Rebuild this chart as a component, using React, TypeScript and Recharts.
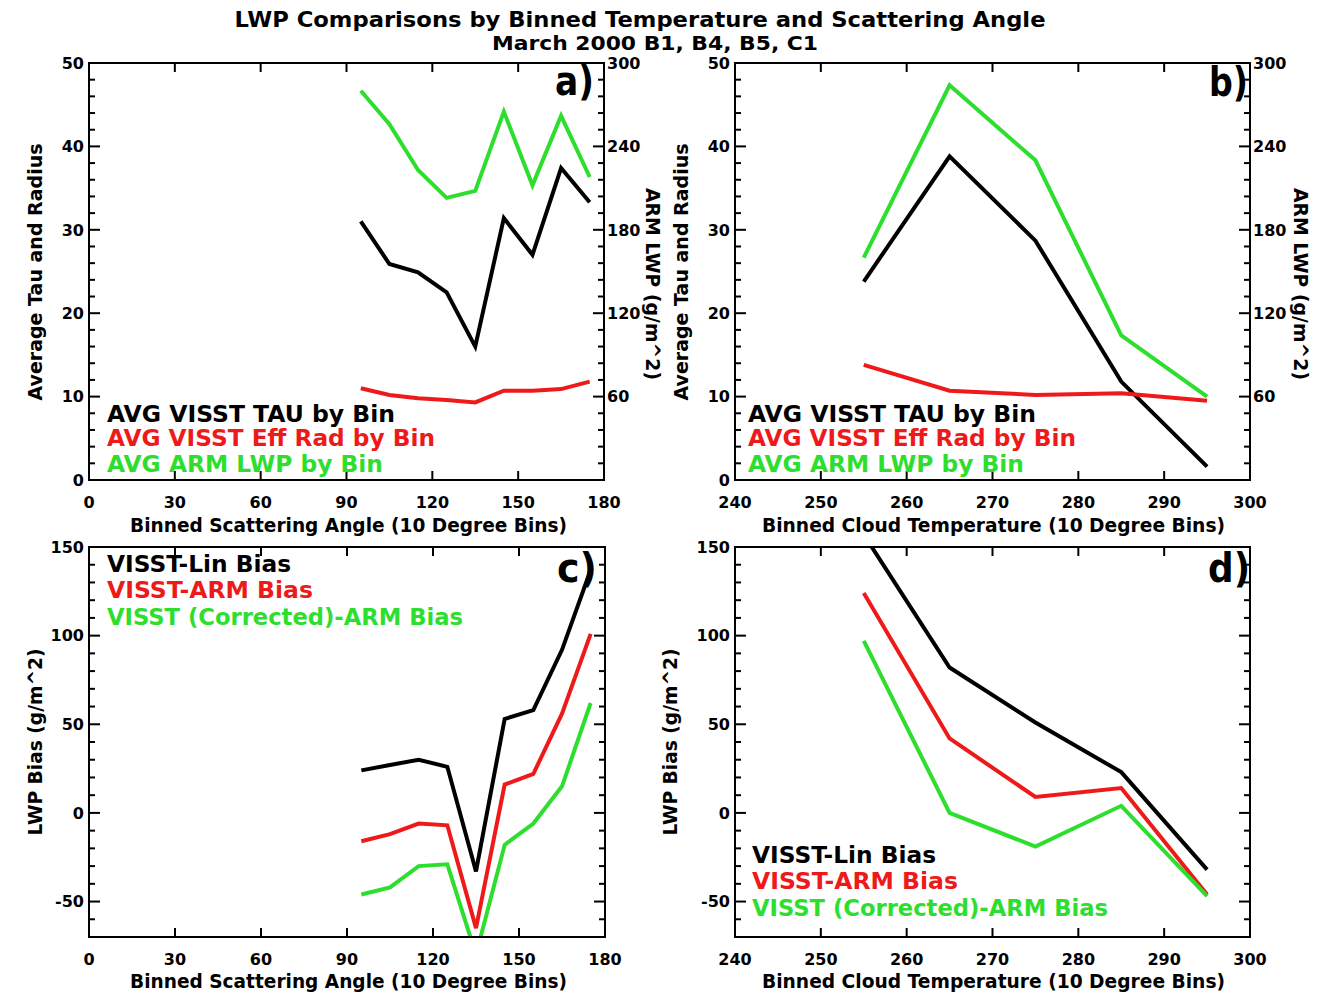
import React from 'react';
import { LineChart, Line, XAxis, YAxis } from 'recharts';

const W = 1319;
const H = 996;
const FONT = '"DejaVu Sans", Verdana, sans-serif';

const BLACK = '#000000';
const RED = '#ee1a1a';
const GREEN = '#2ede2e';

// bin centres
const angleBins = [95, 105, 115, 125, 135, 145, 155, 165, 175];
const tempBins = [255, 265, 275, 285, 295];

// panel a
const angleTau = [31.0, 25.9, 24.9, 22.5, 16.0, 31.4, 27.0, 37.4, 33.3];
const angleEffRad = [11.0, 10.2, 9.8, 9.6, 9.3, 10.7, 10.7, 10.9, 11.8];
const angleArmLwp = [280, 256, 223, 203, 208, 265, 212, 262, 218];

// panel b
const tempTau = [23.8, 38.8, 28.7, 11.8, 1.6];
const tempEffRad = [13.8, 10.7, 10.2, 10.4, 9.5];
const tempArmLwp = [160, 284, 230, 104, 60];

// panel c
const angleLinBias = [24, 27, 30, 26, -33, 53, 58, 92, 137];
const angleArmBias = [-16, -12, -6, -7, -65, 16, 22, 56, 101];
const angleCorrBias = [-46, -42, -30, -29, -80, -18, -6, 15, 62];

// panel d
const tempLinBias = [157, 82, 51, 23, -32];
const tempArmBias = [124, 42, 9, 14, -46];
const tempCorrBias = [97, 0, -19, 4, -47];

const angleTicks = [0, 30, 60, 90, 120, 150, 180];
const tempTicks = [240, 250, 260, 270, 280, 290, 300];
const tauTicks = [0, 10, 20, 30, 40, 50];
const lwpTicks = [60, 120, 180, 240, 300];
const biasTicks = [-50, 0, 50, 100, 150];

const steps = (from: number, to: number, step: number) => {
  const out: number[] = [];
  for (let v = from; v <= to; v += step) out.push(v);
  return out;
};

type Box = { left: number; right: number; top: number; bottom: number };

const boxA: Box = { left: 89, right: 604, top: 63, bottom: 480 };
const boxB: Box = { left: 735, right: 1250, top: 63, bottom: 480 };
const boxC: Box = { left: 89, right: 605, top: 547, bottom: 937 };
const boxD: Box = { left: 735, right: 1250, top: 547, bottom: 937 };

const angleData = angleBins.map((x, i) => ({
  x,
  tau: angleTau[i],
  rad: angleEffRad[i],
  lwp: angleArmLwp[i],
  lin: angleLinBias[i],
  arm: angleArmBias[i],
  corr: angleCorrBias[i],
}));

const tempData = tempBins.map((x, i) => ({
  x,
  tau: tempTau[i],
  rad: tempEffRad[i],
  lwp: tempArmLwp[i],
  lin: tempLinBias[i],
  arm: tempArmBias[i],
  corr: tempCorrBias[i],
}));

const tickText = { fontFamily: FONT, fontWeight: 700, fontSize: 16, fill: '#000' };
const TICK_W = 2;

const leftTick = (box: Box, majors: number[], mirror: boolean) => (props: any) => {
  const { y, payload } = props;
  const v = payload.value;
  const major = majors.includes(v);
  const len = major ? 11 : 6;
  return (
    <g>
      <path d={`M${box.left},${y}H${box.left + len}`} stroke="#000" strokeWidth={TICK_W} fill="none" />
      {mirror && (
        <path d={`M${box.right},${y}H${box.right - len}`} stroke="#000" strokeWidth={TICK_W} fill="none" />
      )}
      {major && (
        <text x={box.left - 5} y={y} dy="0.36em" textAnchor="end" {...tickText}>
          {v}
        </text>
      )}
    </g>
  );
};

const rightTick = (box: Box, majors: number[]) => (props: any) => {
  const { y, payload } = props;
  const v = payload.value;
  const major = majors.includes(v);
  const len = major ? 11 : 6;
  return (
    <g>
      <path d={`M${box.right},${y}H${box.right - len}`} stroke="#000" strokeWidth={TICK_W} fill="none" />
      {major && (
        <text x={box.right + 3} y={y} dy="0.36em" textAnchor="start" {...tickText}>
          {v}
        </text>
      )}
    </g>
  );
};

const bottomTick = (box: Box) => (props: any) => {
  const { x, payload } = props;
  return (
    <g>
      <path d={`M${x},${box.bottom}V${box.bottom - 9}`} stroke="#000" strokeWidth={TICK_W} fill="none" />
      <path d={`M${x},${box.top}V${box.top + 9}`} stroke="#000" strokeWidth={TICK_W} fill="none" />
      <text x={x} y={box.bottom + 28} textAnchor="middle" {...tickText}>
        {payload.value}
      </text>
    </g>
  );
};

type Series = { key: string; color: string; axis: string };

// axes need a non-zero size to be drawn; keep them 1px thick
const AX = 1;

function Panel({
  box,
  data,
  xDomain,
  xTicks,
  yDomain,
  yTicks,
  yMajors,
  right,
  series,
}: {
  box: Box;
  data: any[];
  xDomain: [number, number];
  xTicks: number[];
  yDomain: [number, number];
  yTicks: number[];
  yMajors: number[];
  right?: { domain: [number, number]; ticks: number[]; majors: number[] };
  series: Series[];
}) {
  const margin = {
    top: box.top,
    left: box.left - AX,
    right: W - box.right - (right ? AX : 0),
    bottom: H - box.bottom - AX,
  };
  return (
    <div style={{ position: 'absolute', left: 0, top: 0, width: W, height: H }}>
      <LineChart width={W} height={H} data={data} margin={margin}>
        <XAxis
          dataKey="x"
          type="number"
          domain={xDomain}
          ticks={xTicks}
          interval={0}
          height={AX}
          axisLine={false}
          tickLine={false}
          tick={bottomTick(box)}
        />
        <YAxis
          yAxisId="left"
          type="number"
          domain={yDomain}
          ticks={yTicks}
          interval={0}
          width={AX}
          allowDataOverflow
          axisLine={false}
          tickLine={false}
          tick={leftTick(box, yMajors, !right)}
        />
        {right && (
          <YAxis
            yAxisId="right"
            orientation="right"
            type="number"
            domain={right.domain}
            ticks={right.ticks}
            interval={0}
            width={AX}
            allowDataOverflow
            axisLine={false}
            tickLine={false}
            tick={rightTick(box, right.majors)}
          />
        )}
        {series.map((s) => (
          <Line
            key={s.key}
            yAxisId={s.axis}
            type="linear"
            dataKey={s.key}
            stroke={s.color}
            strokeWidth={4}
            dot={false}
            activeDot={false}
            isAnimationActive={false}
          />
        ))}
      </LineChart>
    </div>
  );
}

const txt = { fontFamily: FONT, fontWeight: 700 };

function Legend({ x, items }: { x: number; items: { label: string; color: string; y: number; w: number }[] }) {
  return (
    <g>
      {items.map((it) => (
        <text
          key={it.label}
          x={x}
          y={it.y}
          fill={it.color}
          fontSize={23}
          textLength={it.w}
          lengthAdjust="spacingAndGlyphs"
          {...txt}
        >
          {it.label}
        </text>
      ))}
    </g>
  );
}

function Overlay() {
  const frames = [boxA, boxB, boxC, boxD];
  const tauLegend = [
    { label: 'AVG VISST TAU by Bin', color: BLACK, y: 422, w: 288 },
    { label: 'AVG VISST Eff Rad by Bin', color: RED, y: 446, w: 328 },
    { label: 'AVG ARM LWP by Bin', color: GREEN, y: 472, w: 276 },
  ];
  const biasLegend = (y0: number) => [
    { label: 'VISST-Lin Bias', color: BLACK, y: y0, w: 184 },
    { label: 'VISST-ARM Bias', color: RED, y: y0 + 26, w: 206 },
    { label: 'VISST (Corrected)-ARM Bias', color: GREEN, y: y0 + 53, w: 356 },
  ];
  return (
    <svg
      width={W}
      height={H}
      style={{ position: 'absolute', left: 0, top: 0, pointerEvents: 'none' }}
    >
      {frames.map((b, i) => (
        <rect
          key={i}
          x={b.left}
          y={b.top}
          width={b.right - b.left}
          height={b.bottom - b.top}
          fill="none"
          stroke="#000"
          strokeWidth={2}
        />
      ))}
      <text x={640} y={27} textAnchor="middle" fontSize={21} textLength={811} lengthAdjust="spacingAndGlyphs" {...txt}>
        LWP Comparisons by Binned Temperature and Scattering Angle
      </text>
      <text x={655} y={50} textAnchor="middle" fontSize={20} textLength={326} lengthAdjust="spacingAndGlyphs" {...txt}>
        March 2000 B1, B4, B5, C1
      </text>

      {/* panel letters */}
      <text x={594} y={95} textAnchor="end" fontSize={40} textLength={39} lengthAdjust="spacingAndGlyphs" {...txt}>a)</text>
      <text x={1248} y={96} textAnchor="end" fontSize={40} textLength={39} lengthAdjust="spacingAndGlyphs" {...txt}>b)</text>
      <text x={597} y={582} textAnchor="end" fontSize={40} textLength={40} lengthAdjust="spacingAndGlyphs" {...txt}>c)</text>
      <text x={1250} y={582} textAnchor="end" fontSize={40} textLength={42} lengthAdjust="spacingAndGlyphs" {...txt}>d)</text>

      {/* x axis titles */}
      <text x={130} y={532} fontSize={19} textLength={437} lengthAdjust="spacingAndGlyphs" {...txt}>
        Binned Scattering Angle (10 Degree Bins)
      </text>
      <text x={762} y={532} fontSize={19} textLength={463} lengthAdjust="spacingAndGlyphs" {...txt}>
        Binned Cloud Temperature (10 Degree Bins)
      </text>
      <text x={130} y={988} fontSize={19} textLength={437} lengthAdjust="spacingAndGlyphs" {...txt}>
        Binned Scattering Angle (10 Degree Bins)
      </text>
      <text x={762} y={988} fontSize={19} textLength={463} lengthAdjust="spacingAndGlyphs" {...txt}>
        Binned Cloud Temperature (10 Degree Bins)
      </text>

      {/* y axis titles */}
      <text transform="translate(42,272) rotate(-90)" textAnchor="middle" fontSize={19} textLength={257} lengthAdjust="spacingAndGlyphs" {...txt}>
        Average Tau and Radius
      </text>
      <text transform="translate(646,284) rotate(90)" textAnchor="middle" fontSize={19} textLength={192} lengthAdjust="spacingAndGlyphs" {...txt}>
        ARM LWP (g/m^2)
      </text>
      <text transform="translate(688,272) rotate(-90)" textAnchor="middle" fontSize={19} textLength={257} lengthAdjust="spacingAndGlyphs" {...txt}>
        Average Tau and Radius
      </text>
      <text transform="translate(1294,284) rotate(90)" textAnchor="middle" fontSize={19} textLength={192} lengthAdjust="spacingAndGlyphs" {...txt}>
        ARM LWP (g/m^2)
      </text>
      <text transform="translate(42,742) rotate(-90)" textAnchor="middle" fontSize={19} textLength={187} lengthAdjust="spacingAndGlyphs" {...txt}>
        LWP Bias (g/m^2)
      </text>
      <text transform="translate(677,742) rotate(-90)" textAnchor="middle" fontSize={19} textLength={187} lengthAdjust="spacingAndGlyphs" {...txt}>
        LWP Bias (g/m^2)
      </text>

      <Legend x={107} items={tauLegend} />
      <Legend x={748} items={tauLegend} />
      <Legend x={107} items={biasLegend(572)} />
      <Legend x={752} items={biasLegend(863)} />
    </svg>
  );
}

const tauSeries: Series[] = [
  { key: 'tau', color: BLACK, axis: 'left' },
  { key: 'rad', color: RED, axis: 'left' },
  { key: 'lwp', color: GREEN, axis: 'right' },
];

const biasSeries: Series[] = [
  { key: 'lin', color: BLACK, axis: 'left' },
  { key: 'arm', color: RED, axis: 'left' },
  { key: 'corr', color: GREEN, axis: 'left' },
];

export default function App() {
  const lwpAxis = { domain: [0, 300] as [number, number], ticks: steps(0, 300, 12), majors: lwpTicks };
  return (
    <div style={{ position: 'absolute', left: 0, top: 0, width: W, height: H, background: '#fff' }}>
      <Panel
        box={boxA}
        data={angleData}
        xDomain={[0, 180]}
        xTicks={angleTicks}
        yDomain={[0, 50]}
        yTicks={steps(0, 50, 2)}
        yMajors={tauTicks}
        right={lwpAxis}
        series={tauSeries}
      />
      <Panel
        box={boxB}
        data={tempData}
        xDomain={[240, 300]}
        xTicks={tempTicks}
        yDomain={[0, 50]}
        yTicks={steps(0, 50, 2)}
        yMajors={tauTicks}
        right={lwpAxis}
        series={tauSeries}
      />
      <Panel
        box={boxC}
        data={angleData}
        xDomain={[0, 180]}
        xTicks={angleTicks}
        yDomain={[-70, 150]}
        yTicks={steps(-70, 150, 10)}
        yMajors={biasTicks}
        series={biasSeries}
      />
      <Panel
        box={boxD}
        data={tempData}
        xDomain={[240, 300]}
        xTicks={tempTicks}
        yDomain={[-70, 150]}
        yTicks={steps(-70, 150, 10)}
        yMajors={biasTicks}
        series={biasSeries}
      />
      <Overlay />
    </div>
  );
}
